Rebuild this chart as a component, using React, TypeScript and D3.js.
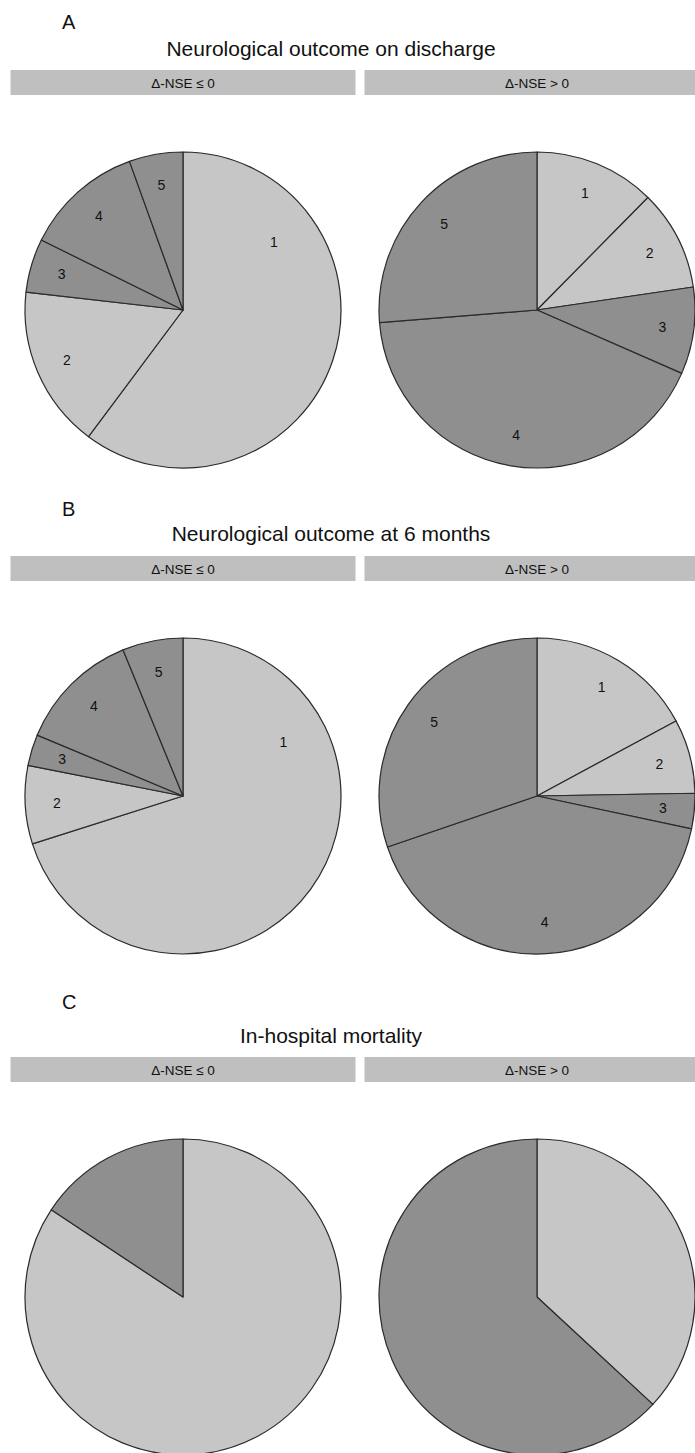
import { useEffect, useRef } from "react";
import * as d3 from "d3";

// strip labels for the two groups
const groups = ["\u0394-NSE \u2264 0", "\u0394-NSE > 0"];

// outcome categories (1-5) and mortality categories
const outcomeLabels = ["1", "2", "3", "4", "5"];
const mortalityLabels = ["", ""];

// % of patients per category
const dischargeLow = [60.2, 16.6, 5.5, 12.2, 5.5];
const dischargeHigh = [12.4, 10.3, 8.9, 42.2, 26.3];
const sixMonthLow = [70.1, 8.0, 3.2, 12.5, 6.2];
const sixMonthHigh = [17.1, 7.6, 3.6, 41.4, 30.2];
const mortalityLow = [84.3, 15.7];
const mortalityHigh = [36.9, 63.1];

const LIGHT = "#c6c6c6";
const DARK = "#8f8f8f";
const outcomeFill = [LIGHT, LIGHT, DARK, DARK, DARK];
const mortalityFill = [LIGHT, DARK];

const FONT = "'Liberation Sans', Arial, Helvetica, sans-serif";

export default function App() {
    const ref = useRef<HTMLDivElement>(null);

    useEffect(() => {
        const width = 695;
        const height = 1453;
        d3.select(ref.current).selectAll("*").remove();

        const svg = d3
            .select(ref.current)
            .append("svg")
            .attr("width", width)
            .attr("height", height)
            .style("display", "block")
            .style("font-family", FONT);

        svg.append("rect").attr("width", width).attr("height", height).attr("fill", "#fff");

        const panels = [
            { letter: "A", title: "Neurological outcome on discharge", series: [dischargeLow, dischargeHigh], labels: outcomeLabels, fills: outcomeFill, letterY: 29, titleY: 56, stripY: 70, cy: 310 },
            { letter: "B", title: "Neurological outcome at 6 months", series: [sixMonthLow, sixMonthHigh], labels: outcomeLabels, fills: outcomeFill, letterY: 516, titleY: 541, stripY: 556, cy: 796 },
            { letter: "C", title: "In-hospital mortality", series: [mortalityLow, mortalityHigh], labels: mortalityLabels, fills: mortalityFill, letterY: 1009, titleY: 1043, stripY: 1057, cy: 1297 },
        ];

        // column positions
        const x = d3.scalePoint().domain(groups).range([183, 537]);
        const radius = 158;
        const stripW = 345;
        const stripH = 25;

        const pie = d3.pie<number>().sort(null).value(d => d);
        const arc = d3.arc<d3.PieArcDatum<number>>().innerRadius(0).outerRadius(radius);

        panels.forEach(p => {
            svg.append("text")
                .attr("x", 62)
                .attr("y", p.letterY)
                .attr("font-size", 20)
                .attr("fill", "#111")
                .text(p.letter);

            svg.append("text")
                .attr("x", 331)
                .attr("y", p.titleY)
                .attr("text-anchor", "middle")
                .attr("font-size", 21)
                .attr("fill", "#111")
                .text(p.title);

            groups.forEach((g, gi) => {
                const cx = x(g)!;
                svg.append("rect")
                    .attr("x", cx - stripW / 2)
                    .attr("y", p.stripY)
                    .attr("width", stripW)
                    .attr("height", stripH)
                    .attr("fill", "#bfbfbf");
                svg.append("text")
                    .attr("x", cx)
                    .attr("y", p.stripY + stripH / 2 + 5)
                    .attr("text-anchor", "middle")
                    .attr("font-size", 13.5)
                    .attr("fill", "#111")
                    .text(g);

                const arcs = pie(p.series[gi]);
                const gPie = svg.append("g").attr("transform", `translate(${cx},${p.cy})`);

                gPie.selectAll("path")
                    .data(arcs)
                    .enter()
                    .append("path")
                    .attr("d", arc)
                    .attr("fill", (d, i) => p.fills[i])
                    .attr("stroke", "#2b2b2b")
                    .attr("stroke-width", 1.2)
                    .attr("stroke-linejoin", "round");

                // labels: mid angle, big slices pulled toward their start
                gPie.selectAll("text")
                    .data(arcs)
                    .enter()
                    .append("text")
                    .attr("transform", d => {
                        const span = d.endAngle - d.startAngle;
                        const big = span > Math.PI;
                        const a = big ? d.startAngle + span * 0.245 : (d.startAngle + d.endAngle) / 2;
                        const r = big ? radius * 0.72 : radius * 0.8;
                        return `translate(${Math.sin(a) * r},${-Math.cos(a) * r})`;
                    })
                    .attr("dy", "0.35em")
                    .attr("text-anchor", "middle")
                    .attr("font-size", 14)
                    .attr("fill", "#111")
                    .text((d, i) => p.labels[i]);
            });
        });
    }, []);

    return <div ref={ref} style={{ position: "absolute", left: 0, top: 0 }}></div>;
}
